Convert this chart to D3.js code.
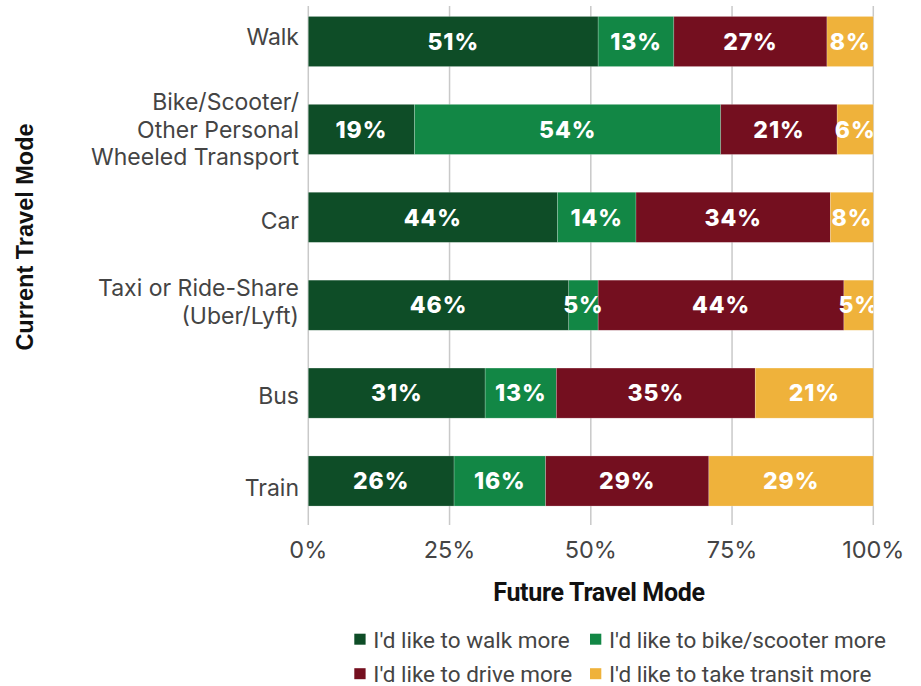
<!DOCTYPE html>
<html>
<head>
<meta charset="utf-8">
<script src="https://cdn.jsdelivr.net/npm/d3@7"></script>
<style>
  html, body { margin: 0; padding: 0; background: #fff; }
  svg { display: block; }
</style>
</head>
<body>
<svg id="chart" width="921" height="686"></svg>
<script>
// Current travel modes (rows), top to bottom
const categories = [
  "Walk",
  "Bike/Scooter/\nOther Personal\nWheeled Transport",
  "Car",
  "Taxi or Ride-Share\n(Uber/Lyft)",
  "Bus",
  "Train"
];

// Share of respondents by future preference, percent of each row
const walkMore    = [51.3, 18.8, 44.1, 46.1, 31.3, 25.8];
const bikeMore    = [13.4, 54.2, 13.9,  5.2, 12.6, 16.2];
const driveMore   = [27.1, 20.6, 34.4, 43.5, 35.2, 28.9];
const transitMore = [ 8.2,  6.4,  7.6,  5.2, 20.9, 29.1];

const seriesNames = [
  "I'd like to walk more",
  "I'd like to bike/scooter more",
  "I'd like to drive more",
  "I'd like to take transit more"
];
const seriesColors = ["#0e4d27", "#128745", "#740f1f", "#efb23b"];

const xTicks = [0, 25, 50, 75, 100];
const xTickLabels = ["0%", "25%", "50%", "75%", "100%"];

const xTitle = "Future Travel Mode";
const yTitle = "Current Travel Mode";

const svg = d3.select("#chart");
const FONT = "Inter, 'Noto Sans', sans-serif";
const NARROW = "Roboto, 'Liberation Sans', sans-serif";

const keys = ["walk", "bike", "drive", "transit"];
const rows = categories.map((c, i) => ({
  cat: c,
  walk: walkMore[i],
  bike: bikeMore[i],
  drive: driveMore[i],
  transit: transitMore[i]
}));
const stacked = d3.stack().keys(keys)(rows);

const x = d3.scaleLinear().domain([0, 100]).range([308.3, 873.3]);
const y = d3.scaleBand()
  .domain(categories)
  .range([-2.45, 524.95])
  .paddingInner(0.43)
  .paddingOuter(0.215);
const color = d3.scaleOrdinal().domain(keys).range(seriesColors);

// vertical gridlines behind the bars
const gridTop = 6, gridBottom = 525;
svg.append("g")
  .selectAll("line")
  .data(xTicks)
  .join("line")
  .attr("x1", d => x(d)).attr("x2", d => x(d))
  .attr("y1", gridTop).attr("y2", gridBottom)
  .attr("stroke", "#c9c9c9")
  .attr("stroke-width", 1.5);

// x tick labels
svg.append("g")
  .selectAll("text")
  .data(xTicks)
  .join("text")
  .attr("x", d => x(d))
  .attr("y", 558.3)
  .attr("text-anchor", "middle")
  .attr("font-family", FONT)
  .attr("font-size", 23.5)
  .attr("fill", "#444")
  .text((d, i) => xTickLabels[i]);

// stacked bar segments
svg.append("clipPath").attr("id", "plotclip")
  .append("rect")
  .attr("x", x(0)).attr("y", 0)
  .attr("width", x(100) - x(0)).attr("height", 530);

const layers = svg.append("g")
  .selectAll("g")
  .data(stacked)
  .join("g")
  .attr("fill", d => color(d.key));

layers.selectAll("rect")
  .data(d => d)
  .join("rect")
  .attr("x", d => x(d[0]))
  .attr("y", d => y(d.data.cat))
  .attr("width", d => x(d[1]) - x(d[0]))
  .attr("height", y.bandwidth())
  .attr("stroke", "#ffffff")
  .attr("stroke-opacity", 0.35)
  .attr("stroke-width", 0.6);

// value labels centred on each segment
const labelGroup = svg.append("g").attr("clip-path", "url(#plotclip)");
stacked.forEach(layer => {
  labelGroup.append("g")
    .selectAll("text")
    .data(layer)
    .join("text")
    .attr("x", d => (x(d[0]) + x(d[1])) / 2)
    .attr("y", d => y(d.data.cat) + y.bandwidth() / 2)
    .attr("dy", "0.36em")
    .attr("text-anchor", "middle")
    .attr("font-family", FONT)
    .attr("font-weight", 800)
    .attr("font-size", 23)
    .attr("letter-spacing", 0.9)
    .attr("fill", "#ffffff")
    .text(d => Math.round(d[1] - d[0]) + "%");
});

// category labels (multi-line, right aligned), with a small per-row vertical nudge
const catNudge = [-4.8, 0, 3.7, -3.5, 2.4, 6.7];
const lineH = 27.5;
const catG = svg.append("g");
categories.forEach((c, k) => {
  const lines = c.split("\n");
  const cy = y(c) + y.bandwidth() / 2 + catNudge[k];
  const t = catG.append("text")
    .attr("text-anchor", "end")
    .attr("font-family", FONT)
    .attr("font-size", 23)
    .attr("fill", "#444");
  lines.forEach((ln, i) => {
    t.append("tspan")
      .attr("x", 299)
      .attr("y", cy + (i - (lines.length - 1) / 2) * lineH)
      .attr("dy", "0.36em")
      .text(ln);
  });
});

// axis titles
svg.append("text")
  .attr("transform", `translate(33, 237) rotate(-90)`)
  .attr("text-anchor", "middle")
  .attr("font-family", "'Liberation Sans', Arial, sans-serif")
  .attr("font-weight", 700)
  .attr("font-size", 23.5)
  .attr("fill", "#111")
  .text(yTitle);

svg.append("text")
  .attr("x", 599)
  .attr("y", 601)
  .attr("text-anchor", "middle")
  .attr("font-family", NARROW)
  .attr("font-weight", 700)
  .attr("font-size", 25)
  .attr("letter-spacing", -0.3)
  .attr("fill", "#111")
  .text(xTitle);

// legend, two columns by two rows
const legendPos = [
  { sx: 354.3, tx: 373.3, y: 647.7 },
  { sx: 590,   tx: 609,   y: 647.7 },
  { sx: 354.3, tx: 373.3, y: 682.2 },
  { sx: 590,   tx: 609,   y: 682.2 }
];
const legend = svg.append("g")
  .selectAll("g")
  .data(seriesNames)
  .join("g");
legend.append("rect")
  .attr("x", (d, i) => legendPos[i].sx)
  .attr("y", (d, i) => legendPos[i].y - 14)
  .attr("width", 11.3)
  .attr("height", 11)
  .attr("fill", (d, i) => seriesColors[i]);
legend.append("text")
  .attr("x", (d, i) => legendPos[i].tx)
  .attr("y", (d, i) => legendPos[i].y)
  .attr("font-family", NARROW)
  .attr("font-size", 22.5)
  .attr("fill", "#444")
  .text(d => d);
</script>
</body>
</html>
